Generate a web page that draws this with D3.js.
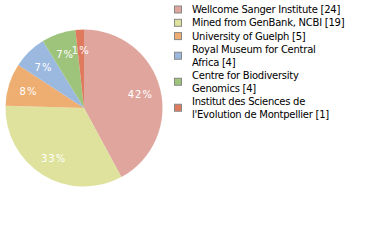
<!DOCTYPE html>
<html>
<head>
<meta charset="utf-8">
<script src="https://cdn.jsdelivr.net/npm/d3@7/dist/d3.min.js"></script>
<style>
  body { margin: 0; background: #fff; }
  svg { display: block; }
</style>
</head>
<body>
<div id="chart"></div>
<script>
// institutions and their record counts
const institutions = [
  'Wellcome Sanger Institute',
  'Mined from GenBank, NCBI',
  'University of Guelph',
  'Royal Museum for Central Africa',
  'Centre for Biodiversity Genomics',
  "Institut des Sciences de l'Evolution de Montpellier",
];
const counts = [24, 19, 5, 4, 4, 1];
const colors = ['#e0a69e', '#dee29c', '#eeae72', '#9bb9df', '#9ec47b', '#e07a5f'];
// legend lines (wrapped as in the picture)
const legendLines = [
  ['Wellcome Sanger Institute [24]'],
  ['Mined from GenBank, NCBI [19]'],
  ['University of Guelph [5]'],
  ['Royal Museum for Central', 'Africa [4]'],
  ['Centre for Biodiversity', 'Genomics [4]'],
  ['Institut des Sciences de', "l'Evolution de Montpellier [1]"],
];

const width = 380;
const height = 240;
const cx = 84;
const cy = 108;
const radius = 78.5;

const svg = d3.select('#chart').append('svg')
  .attr('width', width)
  .attr('height', height);

const total = d3.sum(counts);
const data = counts.map((v, i) => ({ name: institutions[i], value: v, color: colors[i] }));

const pie = d3.pie().value((d) => d.value).sort(null);
const arc = d3.arc().innerRadius(0).outerRadius(radius);
const labelArc = d3.arc().innerRadius(radius * 0.74).outerRadius(radius * 0.74);

const g = svg.append('g').attr('transform', `translate(${cx}, ${cy})`);
const arcs = pie(data);

g.selectAll('path')
  .data(arcs)
  .enter().append('path')
  .attr('d', arc)
  .attr('fill', (d) => d.data.color);

g.selectAll('text')
  .data(arcs)
  .enter().append('text')
  .attr('transform', (d) => `translate(${labelArc.centroid(d)})`)
  .attr('text-anchor', 'middle')
  .attr('dy', '0.45em')
  .attr('fill', '#fff')
  .attr('font-family', 'DejaVu Sans')
  .attr('font-size', 10)
  .attr('letter-spacing', 1)
  .text((d) => `${Math.floor((d.data.value / total) * 100)}%`);

// legend
const legend = svg.append('g')
  .attr('font-family', 'DejaVu Sans')
  .attr('font-size', 10)
  .attr('letter-spacing', -0.25);
const lineH = 12.7;
let y = 9.5;
legendLines.forEach((lines, i) => {
  const mid = y + ((lines.length - 1) * lineH) / 2;
  legend.append('rect')
    .attr('x', 174.5)
    .attr('y', mid - 3.5)
    .attr('width', 7)
    .attr('height', 7)
    .attr('fill', colors[i])
    .attr('stroke', '#888')
    .attr('stroke-width', 1);
  lines.forEach((t, j) => {
    legend.append('text')
      .attr('x', 192)
      .attr('y', y + j * lineH)
      .attr('dy', '0.35em')
      .attr('fill', '#000')
      .text(t);
  });
  y += lines.length * lineH + 0.6;
});
</script>
</body>
</html>
